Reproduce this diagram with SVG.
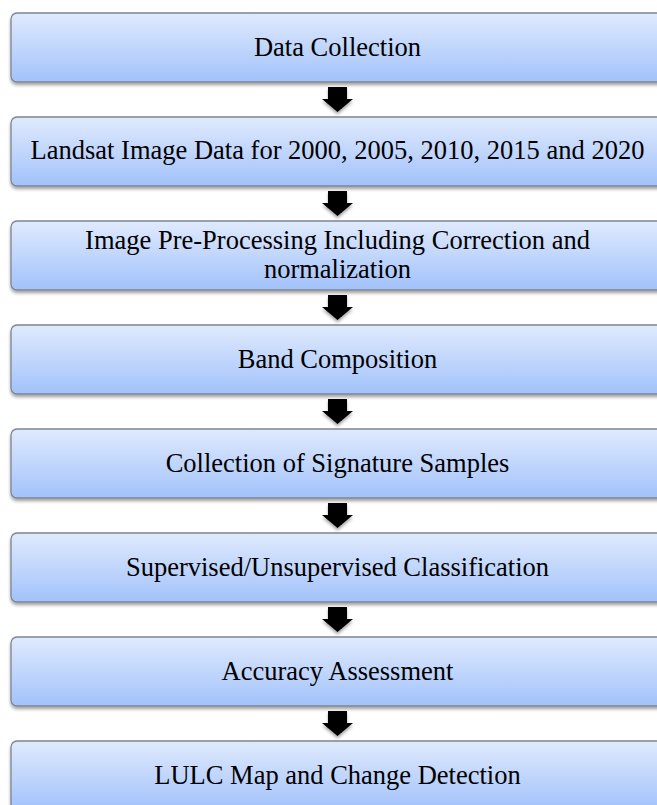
<svg xmlns="http://www.w3.org/2000/svg" width="657" height="805" viewBox="0 0 657 805">
  <defs>
    <linearGradient id="boxFill" x1="0" y1="0" x2="0" y2="1">
      <stop offset="0" stop-color="#e0eafd"/>
      <stop offset="1" stop-color="#a2c2fb"/>
    </linearGradient>
    <filter id="shadow" x="-5%" y="-20%" width="110%" height="150%">
      <feDropShadow dx="0" dy="2.5" stdDeviation="1.5" flood-color="#000" flood-opacity="0.35"/>
    </filter>
    <polygon id="arrow" points="-9.5,0 9.5,0 9.5,12 15.5,12 0,25 -15.5,12 -9.5,12"/>
  </defs>
  <style>
    .box { fill: url(#boxFill); stroke: #7f8591; stroke-width: 1.3; filter: url(#shadow); }
    .lbl { font-family: "Liberation Serif", "Times New Roman", serif; font-size: 26.5px; fill: #000; text-anchor: middle; }
    .arr { fill: #000; filter: url(#shadow); }
  </style>
  <rect width="657" height="805" fill="#fff"/>

  <g id="connectors">
    <use href="#arrow" class="arr" x="337.5" y="87"/>
    <use href="#arrow" class="arr" x="337.5" y="191"/>
    <use href="#arrow" class="arr" x="337.5" y="295"/>
    <use href="#arrow" class="arr" x="337.5" y="399"/>
    <use href="#arrow" class="arr" x="337.5" y="503"/>
    <use href="#arrow" class="arr" x="337.5" y="607"/>
    <use href="#arrow" class="arr" x="337.5" y="711"/>
  </g>

  <g id="data-collection">
    <rect class="box" x="11" y="13" width="655" height="69" rx="6"/>
    <text class="lbl" x="337.5" y="56">Data Collection</text>
  </g>
  <g id="landsat-data">
    <rect class="box" x="11" y="117" width="655" height="69" rx="6"/>
    <text class="lbl" x="337.5" y="159">Landsat Image Data for 2000, 2005, 2010, 2015 and 2020</text>
  </g>
  <g id="pre-processing">
    <rect class="box" x="11" y="221" width="655" height="69" rx="6"/>
    <text class="lbl" x="337.5" y="249">Image Pre-Processing Including Correction and</text>
    <text class="lbl" x="337.5" y="278">normalization</text>
  </g>
  <g id="band-composition">
    <rect class="box" x="11" y="325" width="655" height="69" rx="6"/>
    <text class="lbl" x="337.5" y="368">Band Composition</text>
  </g>
  <g id="signature-samples">
    <rect class="box" x="11" y="429" width="655" height="69" rx="6"/>
    <text class="lbl" x="337.5" y="472">Collection of Signature Samples</text>
  </g>
  <g id="classification">
    <rect class="box" x="11" y="533" width="655" height="69" rx="6"/>
    <text class="lbl" x="337.5" y="576">Supervised/Unsupervised Classification</text>
  </g>
  <g id="accuracy">
    <rect class="box" x="11" y="637" width="655" height="69" rx="6"/>
    <text class="lbl" x="337.5" y="680">Accuracy Assessment</text>
  </g>
  <g id="lulc-map">
    <rect class="box" x="11" y="741" width="655" height="69" rx="6"/>
    <text class="lbl" x="337.5" y="784">LULC Map and Change Detection</text>
  </g>
</svg>
